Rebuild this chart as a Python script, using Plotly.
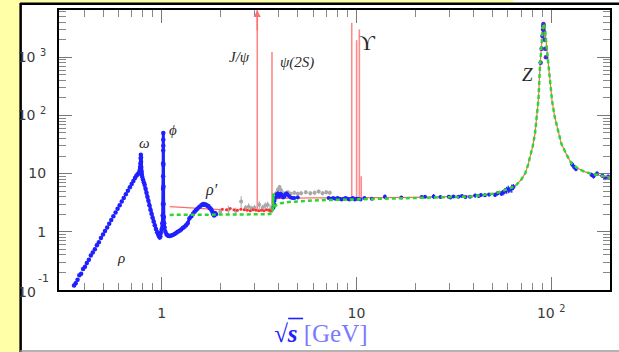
import math
import plotly.graph_objects as go

# ---------------- data ----------------
# rho region, low-energy e+e- -> hadrons data (blue dots)
rho_x = [0.355, 0.362, 0.37, 0.378, 0.386, 0.395, 0.404, 0.413, 0.423, 0.433,
         0.443, 0.454, 0.465, 0.476, 0.488, 0.5, 0.512, 0.525, 0.538, 0.551,
         0.565, 0.58, 0.594, 0.609, 0.624, 0.639, 0.655, 0.671, 0.687, 0.702,
         0.716, 0.73, 0.742, 0.752, 0.76, 0.767]
rho_R = [0.12, 0.13, 0.15, 0.18, 0.19, 0.23, 0.25, 0.29, 0.33, 0.39,
         0.44, 0.50, 0.59, 0.66, 0.78, 0.90, 1.03, 1.19, 1.38, 1.59,
         1.84, 2.15, 2.48, 2.87, 3.31, 3.81, 4.41, 5.09, 5.85, 6.65,
         7.46, 8.36, 9.2, 9.6, 10.0, 10.5]

# omega, phi and the region up to 1.9 GeV (blue)
low_x = [0.772, 0.776, 0.779, 0.781, 0.782, 0.783, 0.784, 0.785, 0.787, 0.79,
         0.795, 0.802, 0.81, 0.818, 0.827, 0.836, 0.845, 0.855, 0.865, 0.876,
         0.887, 0.898, 0.91, 0.922, 0.935, 0.948, 0.96, 0.97, 0.978, 0.985,
         0.99, 1.0, 1.008, 1.012, 1.015, 1.017, 1.018, 1.0185, 1.019, 1.0195,
         1.0198, 1.02, 1.021, 1.022, 1.024, 1.027, 1.03,
         1.035, 1.045, 1.06, 1.075, 1.09, 1.1, 1.12, 1.14, 1.166, 1.19,
         1.21, 1.236, 1.26, 1.285, 1.31, 1.335, 1.36, 1.39, 1.42, 1.45,
         1.475, 1.5, 1.53, 1.565, 1.6, 1.62, 1.64, 1.66, 1.68, 1.7,
         1.72, 1.74, 1.76, 1.78, 1.8, 1.82, 1.84, 1.86, 1.88, 1.9]
low_R = [11.5, 13, 15, 18, 21, 19, 16, 13, 11, 9.8,
         8.8, 7.9, 7.1, 6.4, 5.5, 4.7, 4.0, 3.4, 2.85, 2.4,
         2.05, 1.75, 1.5, 1.3, 1.12, 0.98, 0.9, 0.84, 0.8, 0.83,
         0.95, 1.1, 1.4, 1.9, 3.0, 5.5, 9, 15, 25, 38,
         50, 30, 14, 6, 3, 1.8, 1.4,
         1.2, 1.0, 0.9, 0.86, 0.85, 0.85, 0.86, 0.88, 0.92, 0.96,
         1.0, 1.04, 1.1, 1.16, 1.22, 1.3, 1.4, 1.7, 1.85, 2.05,
         2.2, 2.35, 2.5, 2.69, 2.85, 2.95, 3.0, 2.9, 2.95, 2.85,
         2.8, 2.75, 2.6, 2.5, 2.38, 2.2, 2.0, 1.9, 2.1, 2.0]

# older measurements (grey)
gray_x = [2.0, 2.2, 2.4, 2.56, 2.7, 2.8, 2.9, 3.0, 3.17, 3.3,
          3.4, 3.5, 3.6, 3.7, 3.76, 3.85, 3.95, 4.03, 4.1, 4.2,
          4.3, 4.45, 4.6, 4.8, 5.0, 5.2, 5.5, 5.8, 6.1, 6.4,
          6.7, 7.0, 7.3]
gray_R = [2.2, 2.4, 2.3, 3.3, 2.6, 2.7, 2.5, 2.6, 2.9, 2.6,
          2.8, 2.9, 2.4, 2.7, 3.5, 4.5, 5.3, 5.9, 5.2, 4.6,
          4.4, 4.8, 4.5, 4.7, 4.5, 4.6, 4.8, 4.6, 4.7, 4.9,
          4.6, 4.8, 4.7]
gray_err = [0.3, 0.4, 0.3, 0.8, 0.3, 0.4, 0.3, 0.3, 0.5, 0.3,
            0.4, 0.4, 0.5, 0.6, 0.6, 0.5, 0.5, 0.5, 0.4, 0.4,
            0.4, 0.4, 0.4, 0.4, 0.4, 0.4, 0.4, 0.4, 0.4, 0.4,
            0.4, 0.4, 0.4]

# red data points below charm threshold
reddot_x = [2.05, 2.15, 2.25, 2.35, 2.45, 2.55, 2.65, 2.75, 2.85, 2.95,
            3.05, 3.15, 3.25, 3.35, 3.45, 3.55, 3.65]
reddot_R = [2.45, 2.4, 2.5, 2.4, 2.35, 2.45, 2.4, 2.35, 2.3, 2.4,
            2.35, 2.3, 2.35, 2.3, 2.4, 2.35, 2.3]

# charm / bottom region (blue)
mid_x = [3.75, 3.78, 3.8, 3.85, 3.9, 3.95, 4.0, 4.04, 4.08, 4.12,
         4.16, 4.2, 4.26, 4.3, 4.36, 4.42, 4.5, 4.6, 4.7, 4.8,
         5.0, 7.2, 7.4, 7.6, 7.8, 8.0, 8.2, 8.4, 8.6, 8.8,
         9.0, 9.2, 9.4, 9.6, 9.8, 10.0, 10.2, 10.5]
mid_R = [2.6, 3.0, 3.4, 3.9, 4.4, 4.6, 4.0, 4.1, 4.5, 4.2,
         4.3, 3.9, 4.0, 4.2, 4.6, 4.4, 4.1, 3.9, 3.8, 3.8,
         3.9, 3.8, 3.7, 3.8, 3.7, 3.8, 3.7, 3.6, 3.7, 3.8,
         3.7, 3.6, 3.7, 3.8, 3.6, 3.7, 3.7, 3.6]

# high-energy data (blue, with errors)
hi_x = [11.0, 12.0, 14.0, 17.0, 21.6, 22.5, 24.9, 27.0, 29.8, 30.4,
        31.5, 33.4, 34.8, 36.3, 38.3, 40.7, 42.5, 43.6, 45.7, 48.0,
        51.5, 53.0, 55.5, 56.5, 57.8, 59.0, 60.2, 61.4, 62.8, 64.0]
hi_R = [3.8, 3.7, 4.0, 3.9, 3.95, 4.0, 4.05, 3.95, 4.0, 3.9,
        4.05, 4.0, 4.1, 3.95, 4.0, 4.2, 4.1, 4.3, 4.25, 4.35,
        4.3, 4.6, 4.5, 4.7, 5.0, 5.2, 5.4, 5.3, 5.6, 5.9]
hi_err = [0.15, 0.1, 0.35, 0.2, 0.2, 0.15, 0.4, 0.15, 0.25, 0.2,
          0.15, 0.2, 0.25, 0.15, 0.2, 0.3, 0.2, 0.25, 0.3, 0.3,
          0.35, 0.4, 0.35, 0.5, 0.6, 0.7, 0.8, 0.6, 0.9, 0.7]

# Z peak and above (blue)
zpk_x = [88.3, 89.3, 90.2, 90.8, 91.1, 91.25, 91.4, 91.6, 92.0, 92.6, 93.3, 94.0]
zpk_R = [800, 1400, 2300, 3000, 3500, 3700, 3500, 3300, 2700, 2000, 1400, 1000]
post_x = [128, 131, 134, 161, 165, 172, 183, 189, 196]
post_R = [14.5, 13.0, 12.0, 9.5, 9.0, 10.0, 9.2, 8.5, 8.8]
post_err = [1.5, 1.2, 1.0, 0.8, 0.8, 0.9, 0.8, 0.8, 0.8]

# theory curves
redA_x = [1.1, 1.3, 1.5, 1.8, 2.0]
redA_R = [2.7, 2.6, 2.5, 2.45, 2.4]
red_x = [3.75, 3.8, 4.0, 4.5, 5.0, 6.0, 8.0, 10.0, 11.0, 12.0,
         15.0, 20.0, 25.0, 30.0, 35.0, 40.0, 45.0]
red_R = [3.2, 3.6, 3.75, 3.8, 3.82, 3.82, 3.83, 3.83, 3.85, 3.86,
         3.88, 3.9, 3.95, 4.0, 4.07, 4.15, 4.3]
green_x = [1.1, 1.5, 2.0, 2.5, 3.0, 3.5, 3.72, 3.74, 3.76, 3.78,
           3.8, 3.9, 4.1, 4.5, 5.0, 6.0, 8.0, 10.0, 10.6, 12.0,
           15.0, 20.0, 25.0, 30.0, 35.0, 40.0, 45.0]
green_R = [1.95, 1.96, 1.97, 1.98, 1.99, 2.0, 2.1, 4.6, 2.5, 2.6,
           2.7, 2.9, 3.1, 3.25, 3.35, 3.45, 3.55, 3.6, 3.7, 3.75,
           3.78, 3.82, 3.87, 3.92, 3.98, 4.06, 4.25]
zc_x = [50, 55, 60, 65, 70, 73.6, 76, 78.1, 80.5, 82.6,
        84.5, 86, 87.6, 89, 90.3, 91.2, 91.8, 92.5, 93.5, 95,
        96.5, 98.4, 101, 104.2, 108, 112.6, 120, 127, 137, 148,
        160, 174, 188, 203]
zc_R = [4.5, 4.9, 5.4, 6.0, 7.8, 10.1, 14, 19.6, 30, 49,
        95, 184, 685, 1600, 2800, 3600, 3800, 3400, 2300, 1300,
        750, 355, 180, 95, 55, 33, 21, 15, 12.3, 10.8,
        10.0, 9.5, 8.9, 8.4]

# narrow resonances (red spikes)
res_x = [3.097, 3.686, 9.46, 10.023, 10.355, 10.58]
res_base = [2.3, 2.8, 3.7, 3.7, 3.7, 3.7]
res_top = [1e5, 1220, 3900, 1960, 3000, 9]

# axis ticks
y_tickvals = [1, 10, 100, 1000]
y_ticktext = ["1", "10", "10 <sup>2</sup>", "10 <sup>3</sup>"]
x_tickvals = [1, 10, 100]
x_ticktext = ["1", "10", "10 <sup>2</sup>"]

# ---------------- figure ----------------
BLUE = "#1f1fff"
RED = "#ff6a6a"
GREEN = "#2fd62f"
GRAY = "#a8a8a8"

fig = go.Figure()

sx, sy = [], []
for x, b, t in zip(res_x, res_base, res_top):
    sx += [x, x, None]
    sy += [b, t, None]
fig.add_trace(go.Scatter(x=sx, y=sy, mode="lines",
                         line=dict(color="#ff8a8a", width=1.6), hoverinfo="skip"))

fig.add_trace(go.Scatter(x=gray_x, y=gray_R, mode="markers",
                         marker=dict(color=GRAY, size=4),
                         error_y=dict(type="data", array=gray_err, color=GRAY,
                                      thickness=1, width=0)))
fig.add_trace(go.Scatter(x=reddot_x, y=reddot_R, mode="markers",
                         marker=dict(color="#ff3030", size=3)))

fig.add_trace(go.Scatter(x=redA_x, y=redA_R, mode="lines",
                         line=dict(color=RED, width=1.2)))
fig.add_trace(go.Scatter(x=red_x + zc_x, y=red_R + zc_R, mode="lines",
                         line=dict(color=RED, width=1.2)))

fig.add_trace(go.Scatter(x=rho_x, y=rho_R, mode="markers",
                         marker=dict(color=BLUE, size=4.5)))
fig.add_trace(go.Scatter(x=low_x, y=low_R, mode="lines+markers",
                         line=dict(color=BLUE, width=3),
                         marker=dict(color=BLUE, size=4.5)))
fig.add_trace(go.Scatter(x=mid_x, y=mid_R, mode="markers",
                         marker=dict(color=BLUE, size=4)))
fig.add_trace(go.Scatter(x=hi_x, y=hi_R, mode="markers",
                         marker=dict(color=BLUE, size=4),
                         error_y=dict(type="data", array=hi_err, color=BLUE,
                                      thickness=1.2, width=0)))
fig.add_trace(go.Scatter(x=zpk_x, y=zpk_R, mode="markers",
                         marker=dict(color="#4a2ad8", size=4.5)))
fig.add_trace(go.Scatter(x=post_x, y=post_R, mode="markers",
                         marker=dict(color=BLUE, size=4),
                         error_y=dict(type="data", array=post_err, color=BLUE,
                                      thickness=1.2, width=0)))

fig.add_trace(go.Scatter(x=green_x + zc_x, y=green_R + zc_R, mode="lines",
                         line=dict(color=GREEN, width=2.5, dash="4px,3px")))

# ---------------- layout ----------------
L, R_, T, B = 59, 7, 10, 62
W, H = 619, 352
pw, ph = W - L - R_, H - T - B


def px(xp):
    return (xp - L) / pw


def py(yp):
    return (H - B - yp) / ph


TICKFONT = dict(family="DejaVu Sans", size=14, color="#3a3a3a")

axis_common = dict(
    type="log", showline=True, linecolor="black", linewidth=2, mirror="ticks",
    ticks="inside", ticklen=13, tickwidth=1.2, tickcolor="#777",
    showgrid=False, zeroline=False,
    tickfont=TICKFONT,
    minor=dict(ticks="inside", ticklen=7, tickwidth=1, tickcolor="#888",
               dtick="D1", showgrid=False),
)

fig.update_layout(
    width=W, height=H, showlegend=False,
    margin=dict(l=L, r=R_, t=T, b=B, pad=0),
    paper_bgcolor="#ffffa8", plot_bgcolor="white",
    xaxis=dict(axis_common, range=[-0.527, 2.302], tickmode="array",
               tickvals=x_tickvals, ticktext=x_ticktext, ticklabelstandoff=9),
    yaxis=dict(axis_common, range=[-1.0, 3.81], tickmode="array",
               tickvals=y_tickvals, ticktext=y_ticktext, ticklabelstandoff=8),
)

shapes = [
    dict(type="rect", xref="paper", yref="paper", layer="below",
         x0=px(21), x1=px(630), y0=py(360), y1=py(4),
         fillcolor="white", line=dict(width=0)),
    dict(type="rect", xref="paper", yref="paper", layer="below",
         x0=px(515), x1=px(630), y0=py(4), y1=py(-5),
         fillcolor="white", line=dict(width=0)),
    dict(type="line", xref="paper", yref="paper", layer="below",
         x0=px(20), x1=px(630), y0=py(3.8), y1=py(3.8),
         line=dict(color="black", width=2.5)),
    dict(type="line", xref="paper", yref="paper", layer="below",
         x0=px(20.5), x1=px(20.5), y0=py(3), y1=py(360),
         line=dict(color="black", width=2.5)),
    dict(type="line", xref="paper", yref="paper", layer="below",
         x0=px(20), x1=px(630), y0=py(351), y1=py(351),
         line=dict(color="#9a9a9a", width=1.5)),
    # vinculum of the square root in the axis title
    dict(type="line", xref="paper", yref="paper",
         x0=px(289), x1=px(304), y0=py(318.5), y1=py(318.5),
         line=dict(color="#2020ff", width=1.6)),
]
fig.update_layout(shapes=shapes)

lab_font = dict(family="Liberation Serif", size=15, color="#2a2a2a")
labels = [
    ("<i>J/ψ</i>", 240, 57, 15),
    ("<i>ψ(2S)</i>", 298, 62, 15),
    ("ϒ", 369, 42, 22),
    ("<i>Z</i>", 529, 75, 19),
    ("<i>ω</i>", 145, 143, 15),
    ("<i>ϕ</i>", 173, 130, 15),
    ("<i>ρ′</i>", 212, 190, 16),
    ("<i>ρ</i>", 121, 258, 15),
]
ann = []
for txt, xp, yp, fs in labels:
    ann.append(dict(text=txt, x=px(xp), y=py(yp), xref="paper", yref="paper",
                    showarrow=False, xanchor="center", yanchor="middle",
                    font=dict(lab_font, size=fs)))
# 10^-1 label of the y axis, split as in the original
ann.append(dict(text="10", x=px(38), y=py(292), xref="paper", yref="paper",
                showarrow=False, xanchor="right", yanchor="middle",
                font=TICKFONT))
ann.append(dict(text="-1", x=px(51), y=py(278), xref="paper", yref="paper",
                showarrow=False, xanchor="right", yanchor="middle",
                font=dict(TICKFONT, size=11)))
ann.append(dict(text='<b><i>√s</i></b> <span style="color:#7a7aff">[GeV]</span>',
                x=px(322), y=py(333), xref="paper", yref="paper",
                showarrow=False, xanchor="center", yanchor="middle",
                font=dict(family="Liberation Serif", size=25, color="#2020ff")))
ann.append(dict(text="", x=math.log10(3.097), y=3.81, xref="x", yref="y",
                showarrow=True, arrowhead=2, arrowsize=1, arrowwidth=1.4,
                arrowcolor="#ff7070", ax=0, ay=22))
fig.update_layout(annotations=ann)

fig.write_html("out.html")
